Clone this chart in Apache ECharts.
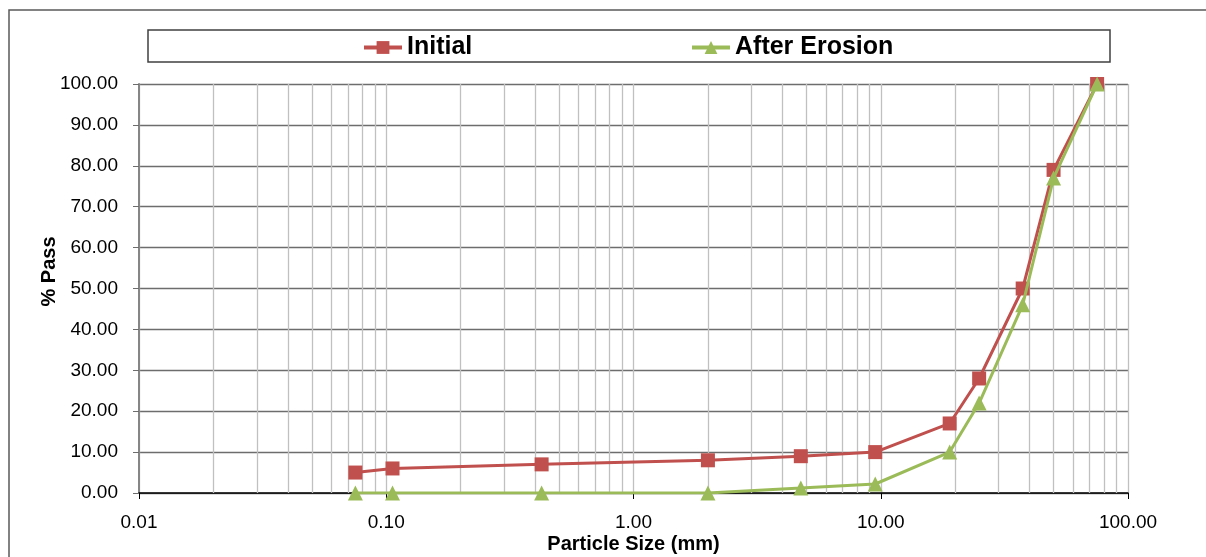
<!DOCTYPE html>
<html>
<head>
<meta charset="utf-8">
<script src="https://cdn.jsdelivr.net/npm/echarts@6/dist/echarts.min.js"></script>
<style>
html,body{margin:0;padding:0;background:#fff;}
#chart{width:1206px;height:557px;}
</style>
</head>
<body>
<div id="chart"></div>
<script>
// Particle sizes (mm)
const sizes = [0.075, 0.106, 0.425, 2.0, 4.75, 9.5, 19, 25, 37.5, 50, 75];
const initialPass = [5, 6, 7, 8, 9, 10, 17, 28, 50, 79, 100];
const erosionPass = [0, 0, 0, 0, 1.2, 2.2, 10, 22, 46, 77, 100];
const seriesNames = ['Initial', 'After Erosion'];
// minor vertical grid values on the log axis
const minorGrid = [0.02,0.03,0.04,0.05,0.06,0.07,0.08,0.09,
                   0.2,0.3,0.4,0.5,0.6,0.7,0.8,0.9,
                   2,3,4,5,6,7,8,9,
                   20,30,40,50,60,70,80,90];

const FONT = '"Liberation Sans", Arial, sans-serif';
const chart = echarts.init(document.getElementById('chart'), null, {renderer: 'canvas'});

const pair = (xs, ys) => xs.map((x, i) => [x, ys[i]]);

const legendCommon = {
  top: 35, padding: 0, itemWidth: 38, itemHeight: 16, itemGap: 4,
  lineStyle: {width: 4},
  textStyle: {fontFamily: FONT, fontWeight: 'bold', fontSize: 25, color: '#000'}
};

chart.setOption({
  animation: false,
  backgroundColor: '#ffffff',
  graphic: [
    {type: 'rect', shape: {x: 9, y: 10, width: 1300, height: 700},
     style: {fill: 'none', stroke: '#595959', lineWidth: 1.5}, silent: true, z: -10},
    {type: 'rect', shape: {x: 148, y: 30, width: 962, height: 32},
     style: {fill: '#fff', stroke: '#404040', lineWidth: 1.5}, silent: true, z: -5}
  ],
  legend: [
    Object.assign({data: [seriesNames[0]], left: 362}, legendCommon),
    Object.assign({data: [seriesNames[1]], left: 690}, legendCommon)
  ],
  grid: {left: 139, right: 78, top: 84, bottom: 64, containLabel: false, outerBoundsMode: 'none'},
  xAxis: {
    type: 'log', logBase: 10, min: 0.01, max: 100,
    name: 'Particle Size (mm)', nameLocation: 'middle', nameGap: 41, nameMoveOverlap: false,
    nameTextStyle: {fontFamily: FONT, fontWeight: 'bold', fontSize: 20, color: '#000'},
    axisLine: {show: true, onZero: false, lineStyle: {color: '#000', width: 1.5}},
    axisTick: {show: true, length: 6, lineStyle: {color: '#000'}},
    axisLabel: {fontFamily: FONT, fontSize: 19, color: '#000', margin: 20,
      formatter: v => Number(v).toFixed(2)},
    splitLine: {show: true, lineStyle: {color: '#c0c0c0', width: 1.3}},
    minorTick: {show: false}
  },
  yAxis: {
    type: 'value', min: 0, max: 100, interval: 10,
    name: '% Pass', nameLocation: 'middle', nameGap: 80, nameMoveOverlap: false,
    nameTextStyle: {fontFamily: FONT, fontWeight: 'bold', fontSize: 20, color: '#000',
      padding: [0, 0, 0, 34]},
    axisLine: {show: true, lineStyle: {color: '#868686', width: 2}},
    axisTick: {show: true, length: 6, lineStyle: {color: '#6d6d6d'}},
    axisLabel: {fontFamily: FONT, fontSize: 19, color: '#000', margin: 21,
      formatter: v => Number(v).toFixed(2)},
    splitLine: {show: true, lineStyle: {color: '#6d6d6d', width: 1.3}}
  },
  series: [
    {
      name: seriesNames[0], type: 'line', data: pair(sizes, initialPass),
      symbol: 'rect', symbolSize: 14, showSymbol: true,
      lineStyle: {color: '#C0504D', width: 3},
      itemStyle: {color: '#C0504D'}, z: 3,
      markLine: {
        silent: true, symbol: 'none', z: 1, animation: false,
        label: {show: false},
        lineStyle: {color: '#c0c0c0', width: 1.3, type: 'solid'},
        emphasis: {disabled: true},
        data: minorGrid.map(v => ({xAxis: v}))
      }
    },
    {
      name: seriesNames[1], type: 'line', data: pair(sizes, erosionPass),
      symbol: 'triangle', symbolSize: 15, showSymbol: true,
      lineStyle: {color: '#9BBB59', width: 3},
      itemStyle: {color: '#9BBB59'}, z: 4
    }
  ]
});
</script>
</body>
</html>
